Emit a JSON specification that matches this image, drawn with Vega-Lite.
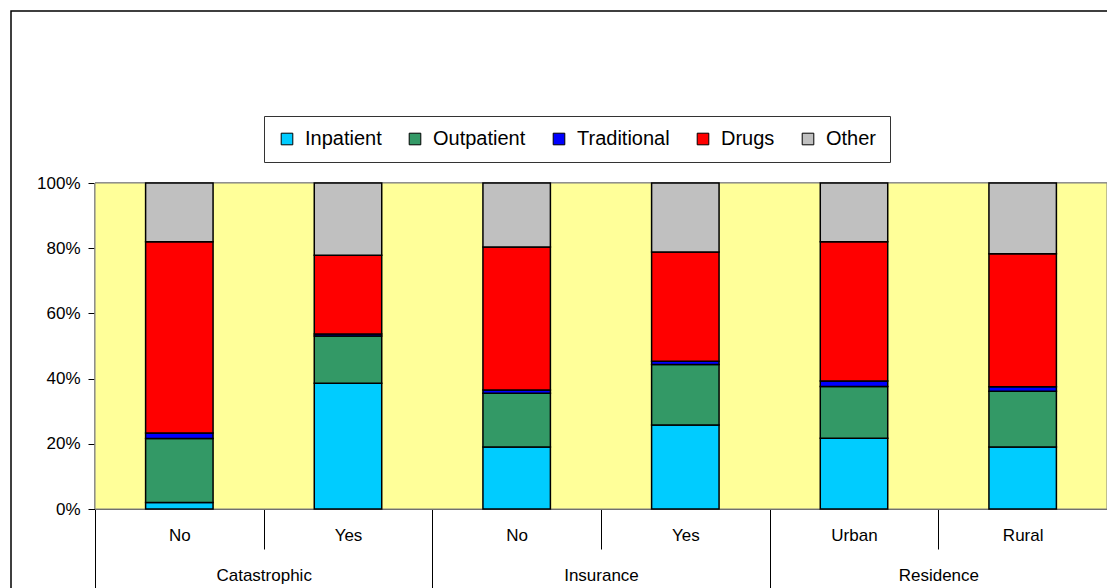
{
  "$schema": "https://vega.github.io/schema/vega-lite/v6.json",
  "width": 1100,
  "height": 580,
  "autosize": {"type": "none"},
  "padding": {"left": 11, "top": 11, "right": 0, "bottom": 0},
  "background": "#ffffff",
  "view": {"stroke": "#000000", "strokeWidth": 1.5, "fill": "#ffffff"},
  "config": {
    "font": "Liberation Sans",
    "axis": {"labelFont": "Liberation Sans", "labelColor": "#000000", "domainColor": "#000000", "tickColor": "#000000", "grid": false, "zindex": 1},
    "legend": {
      "orient": "none", "legendX": 253, "legendY": 105, "direction": "horizontal", "columns": 5,
      "symbolType": "square", "symbolSize": 135, "symbolStrokeColor": "#000000", "symbolStrokeWidth": 1, "symbolOpacity": 1,
      "labelFont": "Liberation Sans", "labelFontSize": 20, "labelColor": "#000000", "labelOffset": 8, "labelLimit": 200,
      "columnPadding": 23, "padding": 13, "strokeColor": "#333333", "fillColor": "#ffffff"
    }
  },
  "datasets": {
    "costs": [
      {"key": "Catastrophic|No", "type": "Inpatient", "ord": 1, "value": 2.0},
      {"key": "Catastrophic|No", "type": "Outpatient", "ord": 2, "value": 19.6},
      {"key": "Catastrophic|No", "type": "Traditional", "ord": 3, "value": 1.7},
      {"key": "Catastrophic|No", "type": "Drugs", "ord": 4, "value": 58.7},
      {"key": "Catastrophic|No", "type": "Other", "ord": 5, "value": 18.0},
      {"key": "Catastrophic|Yes", "type": "Inpatient", "ord": 1, "value": 38.6},
      {"key": "Catastrophic|Yes", "type": "Outpatient", "ord": 2, "value": 14.5},
      {"key": "Catastrophic|Yes", "type": "Traditional", "ord": 3, "value": 0.6},
      {"key": "Catastrophic|Yes", "type": "Drugs", "ord": 4, "value": 24.1},
      {"key": "Catastrophic|Yes", "type": "Other", "ord": 5, "value": 22.2},
      {"key": "Insurance|No", "type": "Inpatient", "ord": 1, "value": 19.0},
      {"key": "Insurance|No", "type": "Outpatient", "ord": 2, "value": 16.5},
      {"key": "Insurance|No", "type": "Traditional", "ord": 3, "value": 1.0},
      {"key": "Insurance|No", "type": "Drugs", "ord": 4, "value": 43.9},
      {"key": "Insurance|No", "type": "Other", "ord": 5, "value": 19.6},
      {"key": "Insurance|Yes", "type": "Inpatient", "ord": 1, "value": 25.8},
      {"key": "Insurance|Yes", "type": "Outpatient", "ord": 2, "value": 18.5},
      {"key": "Insurance|Yes", "type": "Traditional", "ord": 3, "value": 1.0},
      {"key": "Insurance|Yes", "type": "Drugs", "ord": 4, "value": 33.5},
      {"key": "Insurance|Yes", "type": "Other", "ord": 5, "value": 21.2},
      {"key": "Residence|Urban", "type": "Inpatient", "ord": 1, "value": 21.7},
      {"key": "Residence|Urban", "type": "Outpatient", "ord": 2, "value": 15.9},
      {"key": "Residence|Urban", "type": "Traditional", "ord": 3, "value": 1.7},
      {"key": "Residence|Urban", "type": "Drugs", "ord": 4, "value": 42.7},
      {"key": "Residence|Urban", "type": "Other", "ord": 5, "value": 18.0},
      {"key": "Residence|Rural", "type": "Inpatient", "ord": 1, "value": 19.0},
      {"key": "Residence|Rural", "type": "Outpatient", "ord": 2, "value": 17.1},
      {"key": "Residence|Rural", "type": "Traditional", "ord": 3, "value": 1.4},
      {"key": "Residence|Rural", "type": "Drugs", "ord": 4, "value": 40.8},
      {"key": "Residence|Rural", "type": "Other", "ord": 5, "value": 21.7}
    ],
    "groups": [
      {"group": "Catastrophic"},
      {"group": "Insurance"},
      {"group": "Residence"}
    ]
  },
  "layer": [
    {
      "layer": [
        {
          "data": {"name": "groups"},
          "mark": {"type": "rect", "fill": "#FFFF99", "stroke": "#808080", "strokeWidth": 1},
          "encoding": {
            "x": {"datum": "Catastrophic|No", "type": "nominal", "bandPosition": 0},
            "x2": {"datum": "Residence|Rural", "bandPosition": 1},
            "y": {"datum": 0, "type": "quantitative"},
            "y2": {"datum": 1}
          }
        },
        {
          "data": {"name": "costs"},
          "mark": {"type": "bar", "width": {"band": 0.4}, "stroke": "#000000", "strokeWidth": 1.5},
          "encoding": {
            "x": {
              "field": "key", "type": "nominal",
              "scale": {"domain": ["Catastrophic|No", "Catastrophic|Yes", "Insurance|No", "Insurance|Yes", "Residence|Urban", "Residence|Rural"], "range": [84, 1096], "paddingInner": 0, "paddingOuter": 0},
              "axis": {"title": null, "orient": "bottom", "offset": -82, "tickBand": "extent", "bandPosition": 0.5, "tickSize": 40, "labelPadding": -22, "labelFontSize": 17, "labelAngle": 0, "labelAlign": "center", "labelBaseline": "top", "labelExpr": "split(datum.label, '|')[1]", "domainWidth": 1.2}
            },
            "y": {
              "field": "value", "type": "quantitative", "stack": "normalize",
              "scale": {"domain": [0, 1], "range": [498, 172], "nice": false},
              "axis": {"title": null, "orient": "left", "offset": -84, "format": ".0%", "values": [0, 0.2, 0.4, 0.6, 0.8, 1], "tickSize": 7, "labelPadding": 8, "labelFontSize": 17, "domainWidth": 1.2}
            },
            "color": {
              "field": "type", "type": "nominal",
              "scale": {"domain": ["Inpatient", "Outpatient", "Traditional", "Drugs", "Other"], "range": ["#00CCFF", "#339966", "#0000FF", "#FF0000", "#C0C0C0"]},
              "legend": {"title": null}
            },
            "order": {"field": "ord", "type": "quantitative"}
          }
        }
      ]
    },
    {
      "data": {"name": "groups"},
      "mark": {"type": "point", "opacity": 0},
      "encoding": {
        "x": {
          "field": "group", "type": "nominal",
          "scale": {"domain": ["Catastrophic", "Insurance", "Residence"], "range": [84, 1096], "paddingInner": 0, "paddingOuter": 0},
          "axis": {"title": null, "orient": "bottom", "offset": -82, "tickBand": "extent", "tickSize": 79, "labelPadding": -21, "labelFontSize": 17, "labelAngle": 0, "labelAlign": "center", "labelBaseline": "top", "domain": false}
        }
      }
    }
  ],
  "resolve": {"scale": {"x": "independent"}, "axis": {"x": "independent"}}
}
